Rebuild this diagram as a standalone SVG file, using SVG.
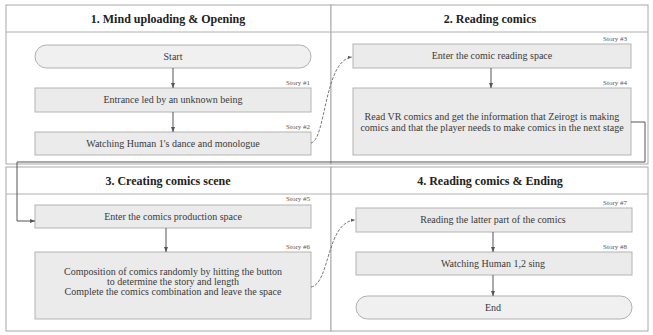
<svg xmlns="http://www.w3.org/2000/svg" width="653" height="335" viewBox="0 0 653 335">
<style>
.panel{fill:#fff;stroke:#a8a8a8;stroke-width:1}
.hline{stroke:#b0b0b0;stroke-width:1}
.hdr{font-weight:bold;font-size:12px;fill:#222;text-anchor:middle}
.box{fill:#ebebeb;stroke:#b4b4b4;stroke-width:1}
.term{fill:#f0f0f0;stroke:#b0b0b0;stroke-width:1}
.t{font-size:10px;fill:#3a3a3a;text-anchor:middle}
.st{font-size:7px;fill:#555;text-anchor:end}
.arr{stroke:#555;stroke-width:1;fill:none;marker-end:url(#ah)}
.dash{stroke:#555;stroke-width:0.8;fill:none;stroke-dasharray:3 1.5;marker-end:url(#ah)}
</style>
<defs>
<marker id="ah" viewBox="0 0 10 10" refX="10" refY="5" markerWidth="5" markerHeight="5" orient="auto">
<path d="M0,1 L10,5 L0,9 z" fill="#555"/>
</marker>
</defs>
<rect width="653" height="335" fill="#fff"/>
<g font-family="'Liberation Serif', 'Times New Roman', 'DejaVu Serif', serif">
<g id="panel1">
<rect class="panel" x="6" y="5" width="325" height="159"/>
<line class="hline" x1="6" y1="32" x2="331" y2="32"/>
<text class="hdr" x="168" y="23">1. Mind uploading &amp; Opening</text>
</g>
<g id="panel2">
<rect class="panel" x="331" y="5" width="317" height="159"/>
<line class="hline" x1="331" y1="32" x2="648" y2="32"/>
<text class="hdr" x="490" y="23">2. Reading comics</text>
</g>
<g id="panel3">
<rect class="panel" x="6" y="167" width="325" height="164"/>
<line class="hline" x1="6" y1="194" x2="331" y2="194"/>
<text class="hdr" x="168" y="185">3. Creating comics scene</text>
</g>
<g id="panel4">
<rect class="panel" x="331" y="167" width="317" height="164"/>
<line class="hline" x1="331" y1="194" x2="648" y2="194"/>
<text class="hdr" x="490" y="185">4. Reading comics &amp; Ending</text>
</g>
<g id="start">
<rect class="term" x="35" y="45" width="276" height="23" rx="11.5"/>
<text class="t" x="173" y="60">Start</text>
</g>
<g id="story1">
<rect class="box" x="35" y="88" width="276" height="24"/>
<text class="st" x="310" y="85">Story #1</text>
<text class="t" x="173" y="103">Entrance led by an unknown being</text>
</g>
<g id="story2">
<rect class="box" x="35" y="132" width="276" height="23"/>
<text class="st" x="310" y="129">Story #2</text>
<text class="t" x="173" y="147">Watching Human 1's dance and monologue</text>
</g>
<g id="story3">
<rect class="box" x="353" y="44" width="278" height="24"/>
<text class="st" x="627" y="41">Story #3</text>
<text class="t" x="492" y="59">Enter the comic reading space</text>
</g>
<g id="story4">
<rect class="box" x="353" y="88" width="278" height="67"/>
<text class="st" x="627" y="85">Story #4</text>
<text class="t" x="492" y="120">Read VR comics and get the information that Zeirogt is making</text>
<text class="t" x="492" y="131">comics and that the player needs to make comics in the next stage</text>
</g>
<g id="story5">
<rect class="box" x="35" y="205" width="276" height="23"/>
<text class="st" x="310" y="201">Story #5</text>
<text class="t" x="173" y="220">Enter the comics production space</text>
</g>
<g id="story6">
<rect class="box" x="35" y="252" width="276" height="67"/>
<text class="st" x="310" y="249">Story #6</text>
<text class="t" x="173" y="275">Composition of comics randomly by hitting the button</text>
<text class="t" x="173" y="285">to determine the story and length</text>
<text class="t" x="173" y="295">Complete the comics combination and leave the space</text>
</g>
<g id="story7">
<rect class="box" x="356" y="208" width="276" height="24"/>
<text class="st" x="627" y="205">Story #7</text>
<text class="t" x="493" y="223">Reading the latter part of the comics</text>
</g>
<g id="story8">
<rect class="box" x="356" y="252" width="276" height="23"/>
<text class="st" x="627" y="249">Story #8</text>
<text class="t" x="493" y="267">Watching Human 1,2 sing</text>
</g>
<g id="end">
<rect class="term" x="356" y="296" width="276" height="23" rx="11.5"/>
<text class="t" x="493" y="311">End</text>
</g>
</g>
<g id="connectors">
<line class="arr" x1="173" y1="68" x2="173" y2="88"/>
<line class="arr" x1="173" y1="112" x2="173" y2="132"/>
<path class="dash" d="M311,143 C326,140 324,60 352,57"/>
<line class="arr" x1="491" y1="68" x2="491" y2="88"/>
<path class="arr" d="M631,122 H645 V162 H17 V221 H35"/>
<line class="arr" x1="166" y1="228" x2="166" y2="252"/>
<path class="dash" d="M311,287 C330,284 326,222 355,220"/>
<line class="arr" x1="493" y1="232" x2="493" y2="252"/>
<line class="arr" x1="493" y1="275" x2="493" y2="296"/>
</g>
</svg>
